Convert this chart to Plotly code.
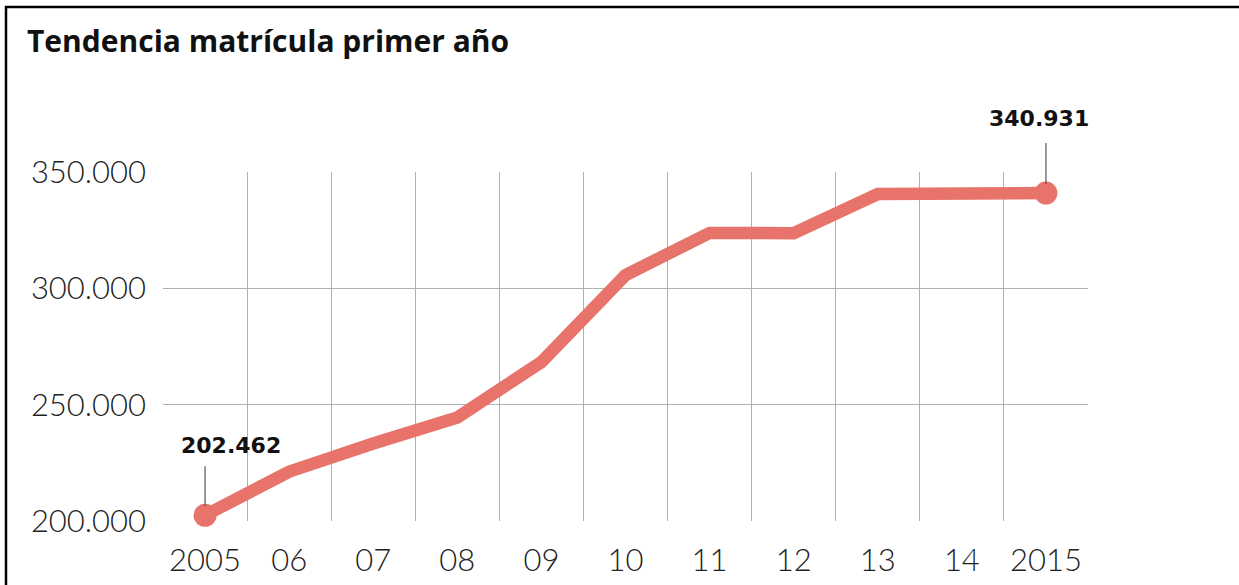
import plotly.graph_objects as go

# ---- data ----
years = [2005, 2006, 2007, 2008, 2009, 2010, 2011, 2012, 2013, 2014, 2015]
tick_labels = ["2005", "06", "07", "08", "09", "10", "11", "12", "13", "14", "2015"]
matricula = [202462, 221200, 233300, 244500, 268300, 305700, 323800, 323700, 340500, 340800, 340931]
y_ticks = [200000, 250000, 300000, 350000]
title_text = "Tendencia matrícula primer año"

# ---- layout geometry (pixels) ----
W, H = 1239, 585
L, R, T, B = 163, 1088, 172, 521
pw, ph = R - L, B - T

line_color = "#E8736A"
grid_color = "#B0B0B0"
tick_font = dict(family="Lato", size=31, color="#222222", weight=300)
label_font = dict(family="DejaVu Sans", size=22, color="#111111", weight=700)

fig = go.Figure()
fig.add_trace(go.Scatter(
    x=years, y=matricula, mode="lines",
    line=dict(color=line_color, width=12.5),
    cliponaxis=False, hoverinfo="skip", showlegend=False,
))
fig.add_trace(go.Scatter(
    x=[years[0], years[-1]], y=[matricula[0], matricula[-1]], mode="markers",
    marker=dict(color=line_color, size=23),
    cliponaxis=False, hoverinfo="skip", showlegend=False,
))

def fmt(v):
    return f"{v:,}".replace(",", ".")

# value labels and leader lines for the first and last points
for x, v, dx, dy, lead in [(years[0], matricula[0], 26, 70, -51), (years[-1], matricula[-1], -7, 75, -52)]:
    fig.add_annotation(x=x, y=v, text=fmt(v), showarrow=False,
                       xshift=dx, yshift=dy, font=label_font)
    fig.add_annotation(x=x, y=v, text=" ", showarrow=True, ax=0, ay=lead,
                       arrowhead=0, arrowwidth=1.2, arrowcolor="#555555",
                       standoff=9, font=dict(size=1))

fig.update_layout(
    width=W, height=H,
    margin=dict(l=L, r=W - R, t=T, b=H - B, pad=0, autoexpand=False),
    paper_bgcolor="white", plot_bgcolor="white",
    separators=",.",
    title=dict(text=f"<b>{title_text}</b>", xref="container", yref="container",
               x=27 / W, xanchor="left", y=1 - 41 / H, yanchor="middle",
               font=dict(family="Open Sans", size=30, color="#111111")),
    xaxis=dict(
        range=[years[0] - 0.5, years[-1] + 0.5], automargin=False,
        tickmode="array", tickvals=years, ticktext=tick_labels,
        showgrid=False, zeroline=False, showline=False, ticks="",
        tickfont=tick_font, ticklabelstandoff=18,
        minor=dict(tickmode="array", tickvals=[y + 0.5 for y in years[:-1]],
                   showgrid=True, gridcolor=grid_color, gridwidth=1.3, ticks=""),
    ),
    yaxis=dict(
        range=[y_ticks[0], y_ticks[-1]], automargin=False,
        tickmode="array", tickvals=y_ticks, tickformat=",d",
        showgrid=True, gridcolor=grid_color, gridwidth=1.3,
        zeroline=False, showline=False, ticks="",
        tickfont=tick_font, ticklabelstandoff=16,
    ),
    shapes=[dict(type="rect", xref="paper", yref="paper",
                 x0=(6 - L) / pw, x1=(W + 10 - L) / pw,
                 y0=(B - (H + 10)) / ph, y1=(B - 7) / ph,
                 line=dict(color="black", width=2.5), layer="above")],
)

fig.write_html("out.html", config={"displayModeBar": False},
               post_script="document.body.style.margin='0';document.body.style.overflow='hidden';")
